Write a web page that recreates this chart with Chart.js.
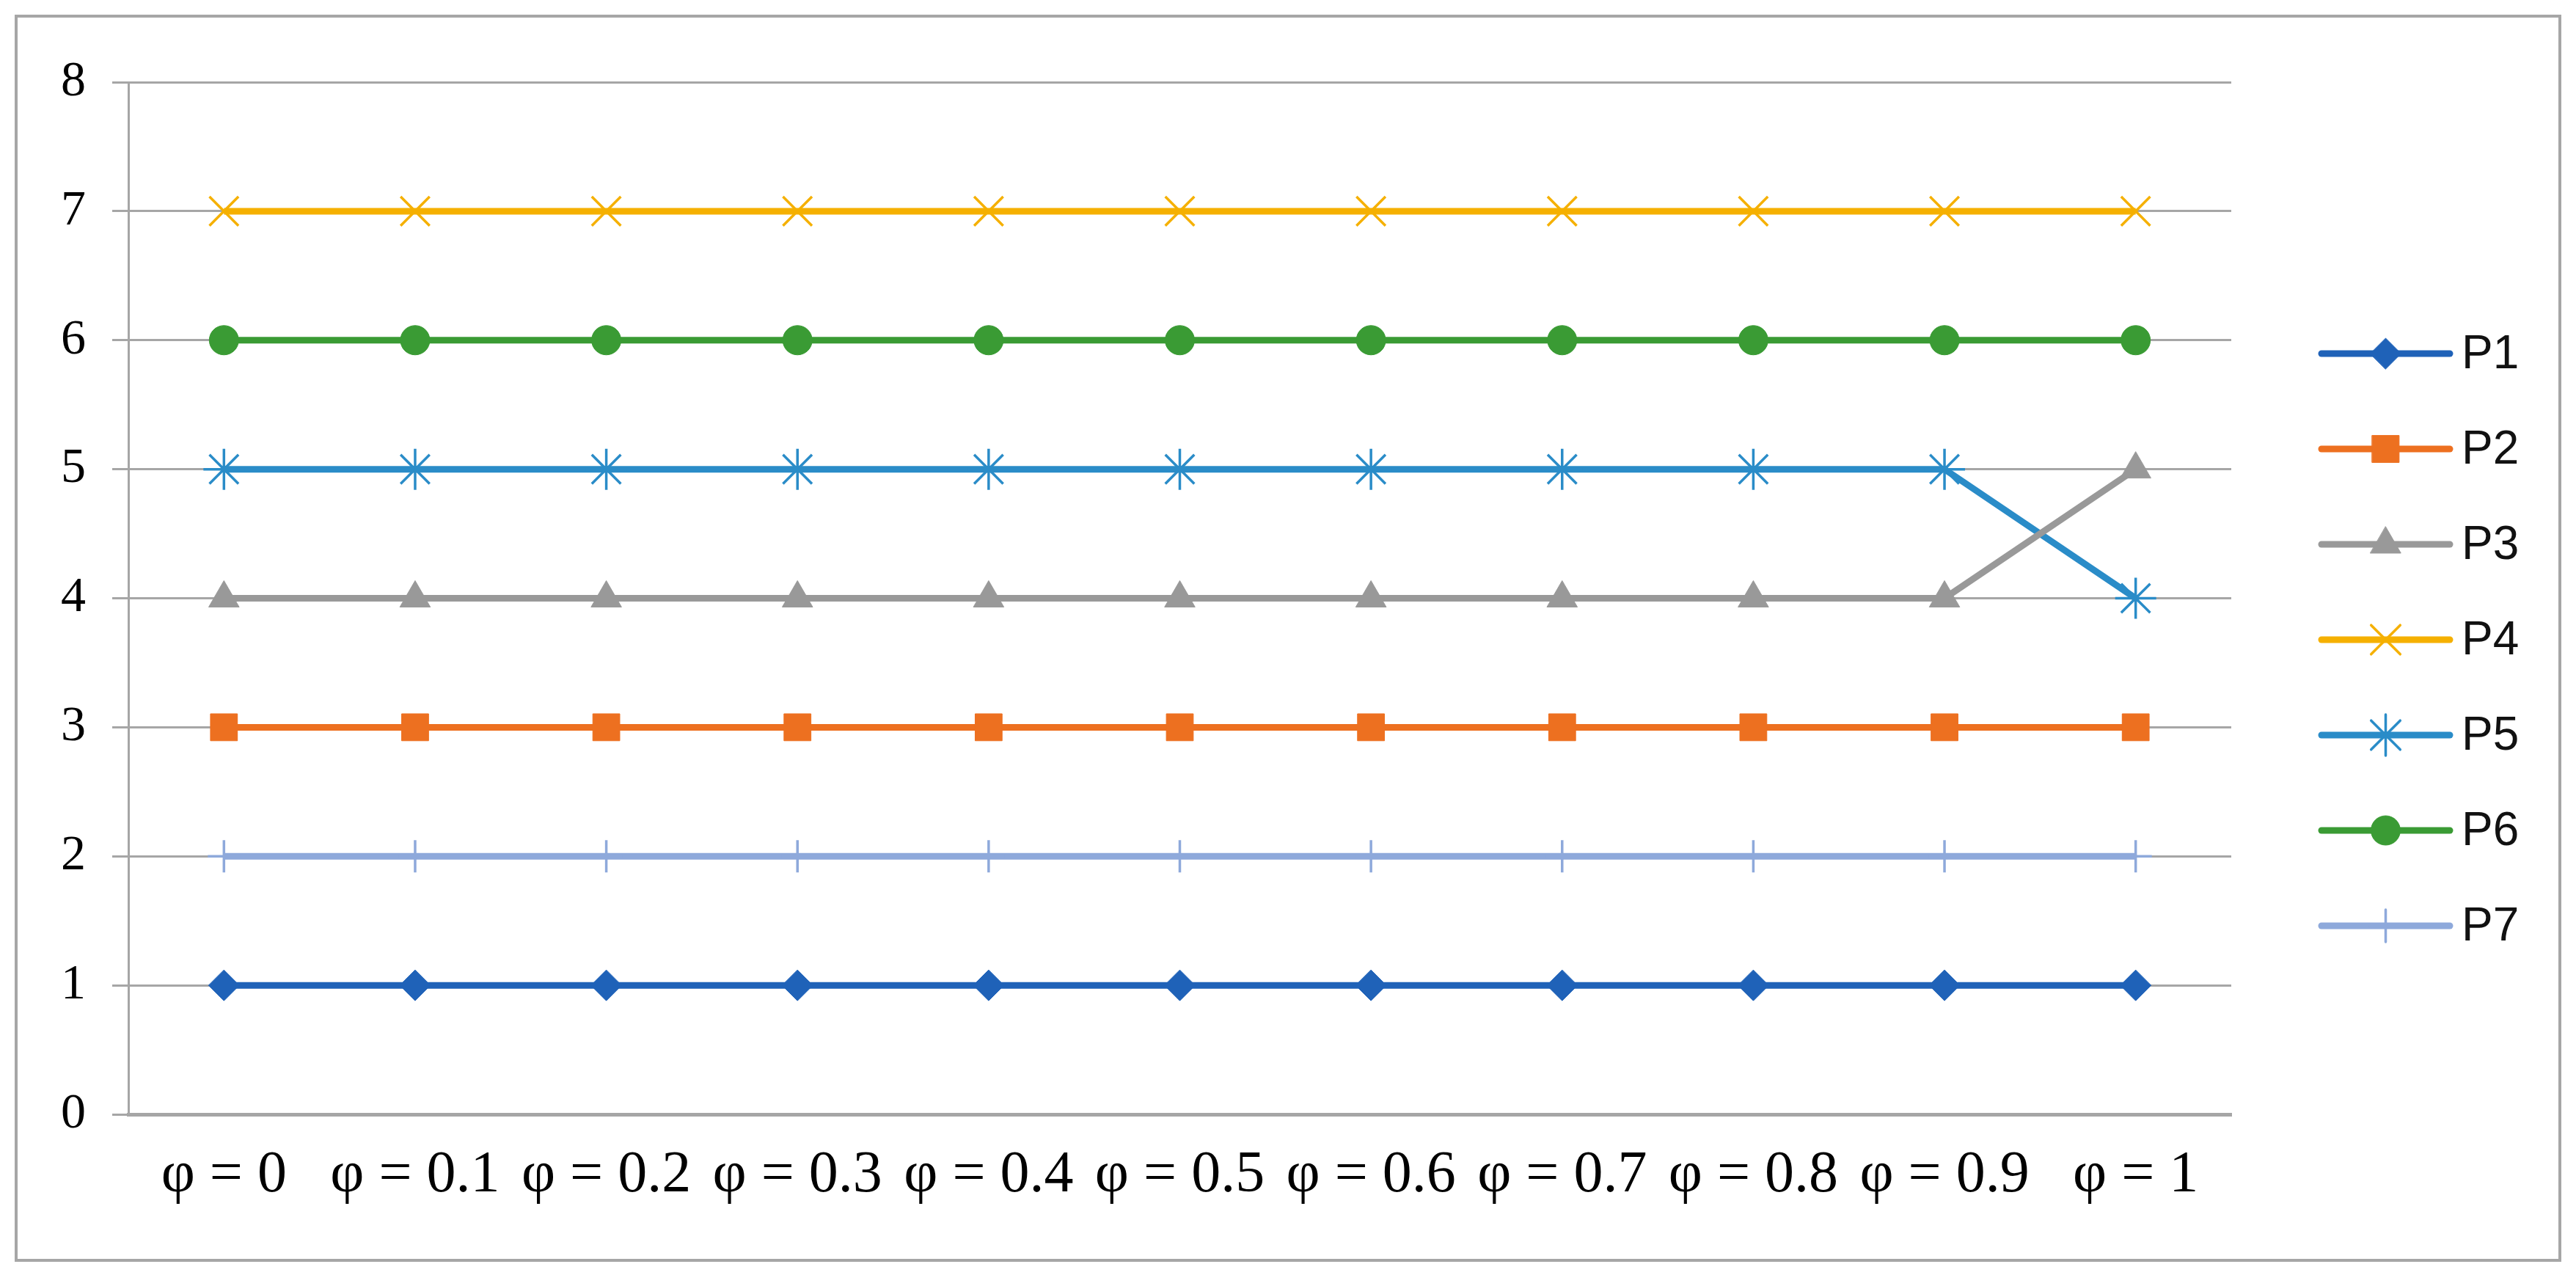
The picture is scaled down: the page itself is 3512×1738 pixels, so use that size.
<!DOCTYPE html>
<html><head><meta charset="utf-8">
<script src="https://cdn.jsdelivr.net/npm/chart.js@4"></script>
<style>html,body{margin:0;padding:0;background:#fff}#w{width:3512px;height:1738px}</style>
</head><body><div id="w"><canvas id="c"></canvas></div>
<script>
const categories = ['φ = 0','φ = 0.1','φ = 0.2','φ = 0.3','φ = 0.4','φ = 0.5','φ = 0.6','φ = 0.7','φ = 0.8','φ = 0.9','φ = 1'];
const seriesNames = ['P1','P2','P3','P4','P5','P6','P7'];
const P1 = [1,1,1,1,1,1,1,1,1,1,1];
const P2 = [3,3,3,3,3,3,3,3,3,3,3];
const P3 = [4,4,4,4,4,4,4,4,4,4,5];
const P4 = [7,7,7,7,7,7,7,7,7,7,7];
const P5 = [5,5,5,5,5,5,5,5,5,5,4];
const P6 = [6,6,6,6,6,6,6,6,6,6,6];
const P7 = [2,2,2,2,2,2,2,2,2,2,2];
const yTicks = [0,1,2,3,4,5,6,7,8];

const colors = ['#1F62B8','#ED7020','#999999','#F5B000','#2A8CC8','#3A9B34','#8EA9DB'];
const styles = ['rectRot','rect','triangle','crossRot','star','circle','cross'];
const radii = [21,26,24,28,28,20,22];
const values = [P1,P2,P3,P4,P5,P6,P7];

const datasets = seriesNames.map((n,i)=>({
  label:n, data:values[i], borderColor:colors[i], backgroundColor:colors[i],
  borderWidth:9, pointStyle:styles[i], pointRadius:radii[i],
  pointBorderWidth:(styles[i].startsWith('cross')||styles[i]==='star')?3.5:1,
  pointBorderColor:colors[i], pointBackgroundColor:colors[i], tension:0
}));

const deco = {
  id:'deco',
  afterDraw(chart){
    const ctx = chart.ctx;
    ctx.save();
    ctx.strokeStyle='#A6A6A6'; ctx.lineWidth=4;
    ctx.strokeRect(22,22,3468,1696);
    const x0=3165, x1=3340, y0=482, dy=130;
    chart.data.datasets.forEach((d,i)=>{
      const y=y0+i*dy;
      ctx.strokeStyle=d.borderColor; ctx.lineWidth=9; ctx.lineCap='round';
      ctx.beginPath(); ctx.moveTo(x0,y); ctx.lineTo(x1,y); ctx.stroke();
      ctx.fillStyle=d.backgroundColor; ctx.strokeStyle=d.borderColor; ctx.lineWidth=d.pointBorderWidth;
      ctx.beginPath();
      Chart.helpers.drawPoint(ctx,{pointStyle:d.pointStyle,radius:d.pointRadius,borderWidth:d.pointBorderWidth},(x0+x1)/2,y);
      ctx.fillStyle='#111'; ctx.font='64px "Liberation Sans", Arial, sans-serif';
      ctx.textBaseline='middle'; ctx.textAlign='left';
      ctx.fillText(d.label,x1+16,y+2);
    });
    ctx.restore();
  }
};

new Chart(document.getElementById('c'),{
  type:'line',
  data:{labels:categories,datasets},
  options:{
    responsive:true, maintainAspectRatio:false, animation:false,
    devicePixelRatio:1,
    layout:{padding:{left:0,top:112,right:470,bottom:0}},
    plugins:{legend:{display:false},tooltip:{enabled:false}},
    scales:{
      x:{
        offset:true,
        grid:{display:false,drawTicks:false},
        border:{color:'#A6A6A6',width:5},
        ticks:{color:'#000',font:{family:'"Liberation Serif", serif',size:80},padding:36,maxRotation:0,autoSkip:false},
        afterFit(s){s.height=219;}
      },
      y:{
        min:0,max:8,
        afterBuildTicks(s){s.ticks=yTicks.map(v=>({value:v}));},
        grid:{color:'#A6A6A6',lineWidth:3,drawTicks:true,tickLength:22},
        border:{color:'#A6A6A6',width:3},
        ticks:{color:'#000',font:{family:'"Liberation Serif", serif',size:68},padding:36},
        afterFit(s){s.width=175;}
      }
    }
  },
  plugins:[deco]
});
</script></body></html>
